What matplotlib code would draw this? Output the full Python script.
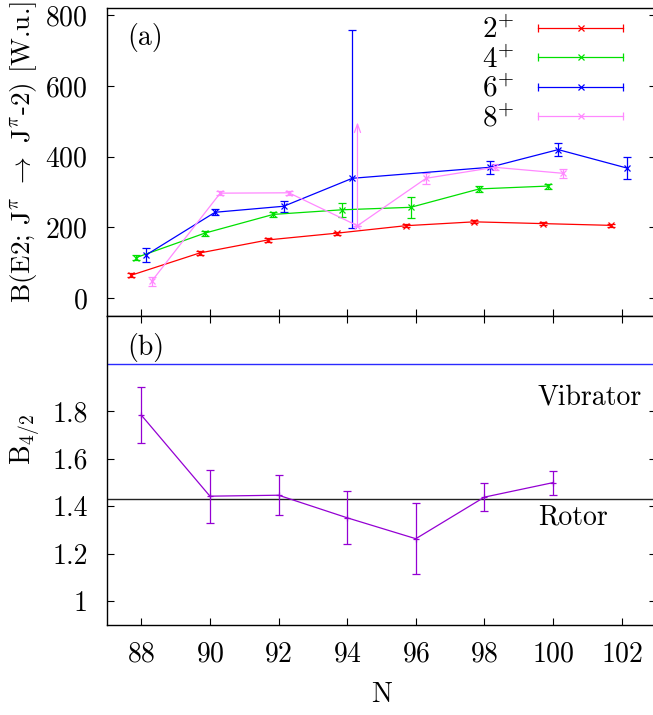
import matplotlib
matplotlib.use("Agg")
import matplotlib.pyplot as plt
from matplotlib.lines import Line2D
from matplotlib.container import ErrorbarContainer
from matplotlib.legend_handler import HandlerBase

plt.rcParams['font.family'] = 'serif'
plt.rcParams['font.serif'] = ['cmr10']
plt.rcParams['mathtext.fontset'] = 'cm'
plt.rcParams['axes.formatter.use_mathtext'] = True
plt.rcParams['axes.unicode_minus'] = False

############
# B(E2) values per spin, shifted a bit in N so the bars do not overlap
N2 = [87.7, 89.7, 91.7, 93.7, 95.7, 97.7, 99.7, 101.7]
B2 = [65, 128, 165, 184, 205, 216, 211, 206]
E2 = [6, 6, 5, 4, 4, 4, 4, 4]

N4 = [87.85, 89.85, 91.85, 93.85, 95.85, 97.85, 99.85]
B4 = [115, 184, 237, 250, 257, 309, 317]
E4 = [7, 7, 8, 20, 30, 9, 7]

N6 = [88.15, 90.15, 92.15, 94.15, 98.15, 100.15, 102.15]
B6 = [123, 243, 260, 339, 370, 420, 368]
E6_lo = [20, 8, 15, 140, 18, 18, 30]
E6_hi = [20, 8, 15, 418, 18, 18, 30]

N8 = [88.3, 90.3, 92.3, 94.3, 96.3, 98.3, 100.3]
B8 = [48, 297, 298, 205, 339, 370, 353]
E8 = [12, 6, 6, 0, 16, 8, 12]
# 8+ at N=94 is only a lower limit
N8_lim = 94.3
B8_lim = [205, 497]

# B4/2 ratio
NB = [88, 90, 92, 94, 96, 98, 100]
R42 = [1.783, 1.442, 1.446, 1.351, 1.263, 1.438, 1.499]
R42_err = [0.118, 0.112, 0.083, 0.112, 0.150, 0.060, 0.050]
VIBRATOR = 2.0
ROTOR = 10.0 / 7.0

labels = ["$2^{+}$", "$4^{+}$", "$6^{+}$", "$8^{+}$"]
colors = ["#ff0000", "#00e000", "#0000ff", "#ff88ff"]


class HandlerErrKey(HandlerBase):
    # gnuplot-like key: horizontal bar with end caps and a cross in the middle
    def create_artists(self, legend, orig_handle, xdescent, ydescent,
                       width, height, fontsize, trans):
        c = orig_handle.lines[0].get_color()
        y = height / 2 - ydescent
        x0, x1 = -xdescent, width - xdescent
        bar = Line2D([x0, x1], [y, y], color=c, lw=0.9, transform=trans)
        caps = Line2D([x0, x1], [y, y], ls='none', marker='|', ms=6,
                      mew=0.9, color=c, transform=trans)
        mid = Line2D([(x0 + x1) / 2], [y], ls='none', marker='x', ms=5,
                     mew=0.9, color=c, transform=trans)
        return [bar, caps, mid]


fig = plt.figure(figsize=(6.53, 7.15), dpi=100)
W, H = 653.0, 715.0
ax1 = fig.add_axes([107 / W, 399 / H, 549 / W, 308 / H])
ax2 = fig.add_axes([107 / W, 90 / H, 549 / W, 309 / H])

FS = 20

# (a) B(E2) values
conts = []
series = [(N2, B2, E2), (N4, B4, E4), (N6, B6, [E6_lo, E6_hi]), (N8, B8, E8)]
for (x, y, e), c in zip(series, colors):
    ct = ax1.errorbar(x, y, yerr=e, color=c, lw=0.9, marker='x', ms=5,
                      mew=0.9, capsize=3, capthick=0.9, elinewidth=0.9)
    conts.append(ct)

ax1.annotate('', xy=(N8_lim, B8_lim[1]), xytext=(N8_lim, B8_lim[0]),
             arrowprops=dict(arrowstyle='->,head_length=0.6,head_width=0.22',
                             color=colors[3], lw=0.9, shrinkA=0, shrinkB=0))

ax1.set_xlim(87, 103)
ax1.set_ylim(-50, 820)
ax1.set_yticks([0, 200, 400, 600, 800])
ax1.set_xticks(range(88, 104, 2))
ax1.tick_params(axis='x', labelbottom=False, direction='in', length=5,
                top=False, bottom=True)
ax1.tick_params(axis='y', direction='in', length=5, right=True,
                labelsize=FS, pad=14)
ax1.set_ylabel(r'B(E2; J$^{\pi}$ $\rightarrow$ J$^{\pi}$-2) [W.u.]',
               fontsize=FS - 0.5)
ax1.yaxis.set_label_coords(-0.124, 0.532)
ax1.text(0.037, 0.88, '(a)', transform=ax1.transAxes, fontsize=FS)

ax1.legend(conts, labels, handler_map={ErrorbarContainer: HandlerErrKey()},
           loc='upper right', bbox_to_anchor=(0.9396, 0.972), frameon=False,
           markerfirst=False, fontsize=FS + 1, handlelength=2.9,
           handletextpad=0.8, labelspacing=0.05, borderpad=0,
           borderaxespad=0)

# (b) B4/2 ratio with the vibrator and rotor limits
ax2.axhline(VIBRATOR, color='#2a2aff', lw=1.0)
ax2.axhline(ROTOR, color='#222222', lw=1.0)
ax2.errorbar(NB, R42, yerr=R42_err, color='#9400d3', lw=0.9, marker='+',
             ms=5, mew=0.9, capsize=3, capthick=0.9, elinewidth=0.9)
ax2.text(0.785, 0.715, 'Vibrator', transform=ax2.transAxes, fontsize=FS,
         va='baseline')
ax2.text(0.785, 0.325, 'Rotor', transform=ax2.transAxes, fontsize=FS,
         va='baseline')
ax2.text(0.037, 0.875, '(b)', transform=ax2.transAxes, fontsize=FS)

ax2.set_xlim(87, 103)
ax2.set_ylim(0.9, 2.2)
ax2.set_yticks([1, 1.2, 1.4, 1.6, 1.8])
ax2.set_yticklabels(['1', '1.2', '1.4', '1.6', '1.8'])
ax2.set_xticks(range(88, 104, 2))
ax2.tick_params(axis='both', direction='in', length=5, top=True, right=True,
                labelsize=FS, pad=14)
ax2.tick_params(axis='x', pad=12)
ax2.set_xlabel('N', fontsize=FS)
ax2.xaxis.set_label_coords(0.5, -0.185)
ax2.set_ylabel('B$_{4/2}$', fontsize=FS)
ax2.yaxis.set_label_coords(-0.118, 0.602)

for ax in (ax1, ax2):
    for s in ax.spines.values():
        s.set_linewidth(1.0)

fig.savefig("out.png", dpi=100)
